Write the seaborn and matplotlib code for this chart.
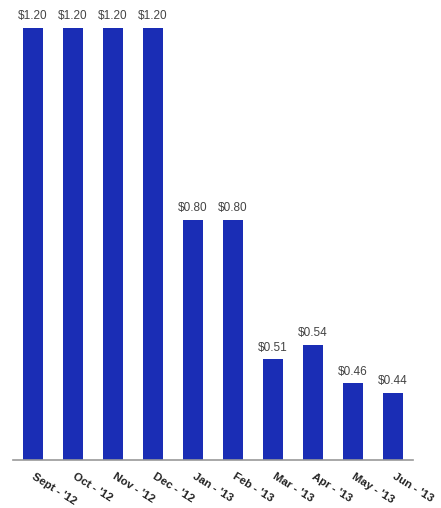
import matplotlib
matplotlib.use("Agg")
import matplotlib.pyplot as plt
import matplotlib.transforms as mtrans
import seaborn as sns
import pandas as pd

months = ["Sept - '12", "Oct - '12", "Nov - '12", "Dec - '12", "Jan - '13",
          "Feb - '13", "Mar - '13", "Apr - '13", "May - '13", "Jun - '13"]
values = [1.20, 1.20, 1.20, 1.20, 0.80, 0.80, 0.51, 0.54, 0.46, 0.44]

df = pd.DataFrame({"month": months, "value": values})

sns.set_style("white")
plt.rcParams['font.family'] = ['Liberation Sans', 'DejaVu Sans']

fig = plt.figure(figsize=(4.41, 5.08), dpi=100)
ax = fig.add_axes([13/441, 48/508, 400/441, 450/508])

sns.barplot(data=df, x="month", y="value", color="#1a2db5", width=0.52,
            saturation=1, edgecolor="none", ax=ax)

ax.set_xlim(-0.5, len(months) - 0.5)
ax.set_ylim(0.3, 1.2375)

ax.bar_label(ax.containers[0], labels=[r"\$%.2f" % v for v in values],
             padding=4, fontsize=8.5, color="#444444")

for s in ["top", "right", "left"]:
    ax.spines[s].set_visible(False)
ax.spines["bottom"].set_color("#999999")
ax.spines["bottom"].set_linewidth(1.2)
ax.set_yticks([])
ax.set_xlabel("")
ax.set_ylabel("")

ax.set_xticks(range(len(months)))
ax.set_xticklabels(months, rotation=-32, ha="left", va="top",
                   rotation_mode="anchor", fontsize=8.2, fontweight="bold",
                   color="#222222")
ax.tick_params(axis="x", which="major", length=0, pad=8)
ax.set_xticks([i - 0.5 for i in range(len(months) + 1)], minor=True)
ax.tick_params(axis="x", which="minor", length=3, color="#999999", width=1)
offset = mtrans.ScaledTranslation(2/72, 0, fig.dpi_scale_trans)
for lbl in ax.get_xticklabels():
    lbl.set_transform(lbl.get_transform() + offset)

fig.savefig("out.png", dpi=100)
